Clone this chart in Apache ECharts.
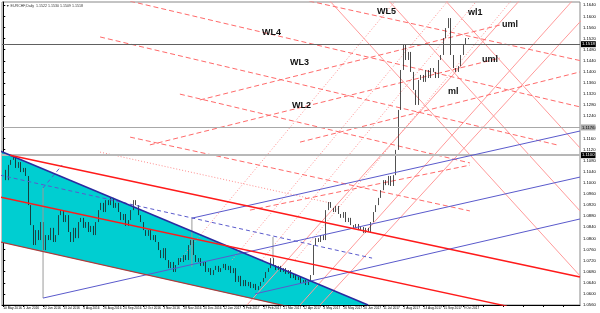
<!DOCTYPE html>
<html><head><meta charset="utf-8">
<script src="https://cdn.jsdelivr.net/npm/echarts@6/dist/echarts.min.js"></script>
<style>html,body{margin:0;padding:0;background:#fff}#c{width:600px;height:313px}</style>
</head><body><div id="c"></div>
<script>
// ---- data ----
const tickLabels = ["10 May 2016","1 Jun 2016","22 Jun 2016","13 Jul 2016","4 Aug 2016","26 Aug 2016","20 Sep 2016","12 Oct 2016","3 Nov 2016","28 Nov 2016","20 Dec 2016","12 Jan 2017","3 Feb 2017","27 Feb 2017","21 Mar 2017","12 Apr 2017","4 May 2017","26 May 2017","20 Jun 2017","11 Jul 2017","2 Aug 2017","24 Aug 2017","15 Sep 2017","9 Oct 2017"];
const barsPerLabel = 8;
const totalSlots = 231;
const closes = [
1.1047,1.1010,1.1065,1.1083,1.1093,1.1054,1.1075,1.1039,1.1054,1.1025,
1.0920,1.0848,1.0776,1.0830,1.0794,1.0859,1.0758,1.0812,1.0794,1.0838,
1.0787,1.0812,1.0884,1.0902,1.0859,1.0884,1.0823,1.0787,1.0838,1.0801,
1.0859,1.0874,1.0838,1.0859,1.0823,1.0845,1.0812,1.0859,1.0902,1.0928,
1.0895,1.0938,1.0920,1.0946,1.0910,1.0928,1.0895,1.0866,1.0888,1.0845,
1.0866,1.0902,1.0938,1.0920,1.0884,1.0859,1.0830,1.0809,1.0830,1.0794,
1.0812,1.0787,1.0758,1.0729,1.0765,1.0722,1.0693,1.0715,1.0679,1.0704,
1.0729,1.0715,1.0740,1.0722,1.0776,1.0794,1.0740,1.0715,1.0729,1.0701,
1.0715,1.0679,1.0693,1.0668,1.0686,1.0701,1.0679,1.0693,1.0708,1.0686,
1.0701,1.0675,1.0693,1.0643,1.0665,1.0628,1.0650,1.0628,1.0643,1.0621,
1.0636,1.0614,1.0628,1.0643,1.0657,1.0679,1.0693,1.0729,1.0704,1.0686,
1.0701,1.0679,1.0693,1.0672,1.0686,1.0657,1.0672,1.0650,1.0661,1.0639,
1.0650,1.0632,1.0650,1.0668,1.0776,1.0801,1.0787,1.0812,1.0794,1.0902,
1.0931,1.0910,1.0895,1.0917,1.0888,1.0874,1.0895,1.0859,1.0874,1.0848,
1.0838,1.0852,1.0830,1.0841,1.0820,1.0838,1.0823,1.0859,1.0895,1.0920,
1.0946,1.0974,1.1010,1.0992,1.1025,1.0989,1.1028,1.1119,1.1263,1.1407,
1.1497,1.1443,1.1472,1.1400,1.1335,1.1281,1.1371,1.1389,1.1364,1.1407,
1.1378,1.1414,1.1400,1.1378,1.1443,1.1461,1.1522,1.1558,1.1594,1.1461,
1.1414,1.1400,1.1421,1.1461,1.1497,1.1522,1.1518];
const header = "EURCHF,Daily  1.1522 1.1530 1.1509 1.1518";
const levels = [
  {v:1.1518, c:'#606060', w:1, bg:'#000', fg:'#fff'},
  {v:1.1176, c:'#a8a8a8', w:1, bg:'#a8a8a8', fg:'#000'},
  {v:1.1100, c:'#b8b8b8', w:2, bg:'#000', fg:'#fff'}
];
// drawn objects, in [bar index, price]
const cyanZone = [[-1.3,1.1115],[145.8,1.0560],[110.6,1.0560],[-1.3,1.0787]];
const redChannel = [
  [[2.7,1.1100],[230.5,1.0661]],
  [[-1.3,1.0949],[201.3,1.0556]]
];
const redChannelLow = [[[-1.3,1.0787],[114.6,1.0553]]];
const navyLine = [[[-1.3,1.1115],[145.8,1.0560]]];
const blueLines = [
  [[15.9,1.0585],[230.5,1.1021]],
  [[75.4,1.0873],[230.5,1.1187]],
  [[100.6,1.0600],[230.5,1.0870]]
];
const blueDashed = [
  [[-1.3,1.1028],[147.4,1.0729]],
  [[15.9,1.0982],[23.5,1.1064]]
];
const grayVerticals = [
  [[15.9,1.0982],[15.9,1.0585]],
  [[75.4,1.0873],[75.4,1.0697]],
  [[107.8,1.0805],[107.8,1.0729]]
];
const redDashed = [
  [[78.6,1.1742],[230.5,1.1441]],
  [[50.7,1.1655],[230.5,1.1274]],
  [[38.7,1.1526],[221.3,1.1137]],
  [[70.6,1.1320],[186.5,1.1072]],
  [[50.7,1.1165],[186.5,1.0899]],
  [[78.6,1.1299],[198.5,1.1569]],
  [[58.6,1.1137],[198.5,1.1450]],
  [[118.6,1.1147],[230.5,1.1400]],
  [[98.6,1.0902],[186.5,1.1064]]
];
const redDotted = [
  [[38.7,1.1111],[130.6,1.0928]],
  [[70.5,1.0722],[157.0,1.1659]],
  [[91.4,1.0722],[178.0,1.1659]],
  [[103.3,1.0722],[189.5,1.1659]],
  [[116.6,1.0722],[203.2,1.1659]]
];
const pinkLines = [
  [[97.4,1.0560],[206.5,1.1659]],
  [[118.6,1.0560],[227.7,1.1659]],
  [[126.6,1.0560],[238.5,1.1659]],
  [[130.2,1.1659],[230.5,1.0665]],
  [[153.8,1.1659],[230.5,1.0899]],
  [[176.5,1.1659],[230.5,1.1126]]
];
const notes = [
  {t:'WL5', x:377, y:12}, {t:'WL4', x:262, y:33}, {t:'WL3', x:290, y:63},
  {t:'WL2', x:292, y:106}, {t:'wl1', x:468, y:13}, {t:'uml', x:502, y:25},
  {t:'uml', x:482, y:60}, {t:'ml', x:448, y:92}
];

// ---- build ----
const cats = Array.from({length: totalSlots}, (_, i) => String(i));
const ohlc = closes.map((c, i) => {
  const o = i > 0 ? closes[i - 1] : c;
  return [o, c, Math.min(o, c), Math.max(o, c)];
});
function lineSeries(list, style, z) {
  return list.map(seg => ({
    type: 'line', xAxisIndex: 1, yAxisIndex: 0, data: seg, symbol: 'none',
    lineStyle: style, silent: true, z: z, clip: true, animation: false
  }));
}
const series = [
  {type:'custom', xAxisIndex:1, yAxisIndex:0, data:[0], clip:true, z:1, silent:true,
   renderItem:(p, api) => ({type:'polygon', shape:{points: cyanZone.map(q => api.coord(q))}, style:{fill:'#00CED1'}})},
  ...lineSeries(redDotted, {color:'#ff8c8c', width:1, type:[1,2]}, 2),
  ...lineSeries(pinkLines, {color:'#ff9a9a', width:1}, 2),
  ...lineSeries(redDashed, {color:'#ff6a6a', width:1, type:[5,3]}, 2),
  {type:'candlestick', xAxisIndex:0, yAxisIndex:0, data: ohlc, barWidth: 1.3, z:4,
   itemStyle:{color:'#4a4a4a', color0:'#1a1a1a', borderColor:'#262626', borderColor0:'#1a1a1a', borderWidth:0.8},
   markLine:{symbol:'none', silent:true, animation:false,
     data: levels.map(l => ({yAxis:l.v, lineStyle:{color:l.c, width:l.w, type:'solid'},
       label:{show:true, position:'end', distance:1, formatter: l.v.toFixed(4), fontSize:4.2, color:l.fg, backgroundColor:l.bg, padding:[1,1], fontFamily:'Liberation Sans'}}))}},
  ...lineSeries(grayVerticals, {color:'#9a9a9a', width:1}, 5),
  ...lineSeries(blueDashed, {color:'#5a5acc', width:1, type:[4,3]}, 5),
  ...lineSeries(blueLines, {color:'#5a5acc', width:1}, 5),
  ...lineSeries(navyLine, {color:'#2a2aa0', width:1.5}, 5),
  ...lineSeries(redChannel, {color:'#ff1a1a', width:1.5}, 5),
  ...lineSeries(redChannelLow, {color:'#b03a3a', width:1.2}, 5)
];
const chart = echarts.init(document.getElementById('c'), null, {renderer:'canvas'});
chart.setOption({
  animation:false,
  backgroundColor:'#fff',
  grid:{left:2, right:20, top:2, bottom:8, show:true, borderColor:'#888', borderWidth:1},
  xAxis:[
    {type:'category', data:cats, boundaryGap:true,
     axisLine:{lineStyle:{color:'#000'}},
     axisTick:{show:true, length:2, alignWithLabel:true, interval:(i) => i % barsPerLabel === 0, lineStyle:{color:'#000'}},
     axisLabel:{interval:(i) => i % barsPerLabel === 0, hideOverlap:false, fontSize:3.2, color:'#000', align:'left', margin:2, fontFamily:'Liberation Sans',
       formatter:(v, i) => (i % barsPerLabel === 0 && tickLabels[i / barsPerLabel]) ? tickLabels[i / barsPerLabel] : ''},
     splitLine:{show:false}},
    {type:'value', min:-0.5, max:totalSlots - 0.5, show:false}
  ],
  yAxis:[{type:'value', position:'right', min:1.0560, max:1.1652, interval:0.0040,
    axisLine:{show:true, lineStyle:{color:'#000'}},
    axisTick:{show:true, length:2, lineStyle:{color:'#000'}},
    axisLabel:{fontSize:4.2, color:'#000', margin:3, showMaxLabel:false, fontFamily:'Liberation Sans', formatter:(v) => v.toFixed(4)},
    splitLine:{show:false}}],
  graphic:[
    {type:'text', left:6, top:4, style:{text:'\u25BC ' + header, fontSize:3.6, fill:'#333', fontFamily:'Liberation Sans'}},
    ...notes.map(n => ({type:'text', x:n.x, y:n.y, style:{text:n.t, fontSize:9, fontWeight:'bold', fill:'#111', fontFamily:'Liberation Sans', verticalAlign:'middle'}, z:20}))
  ],
  series: series
});
</script></body></html>
